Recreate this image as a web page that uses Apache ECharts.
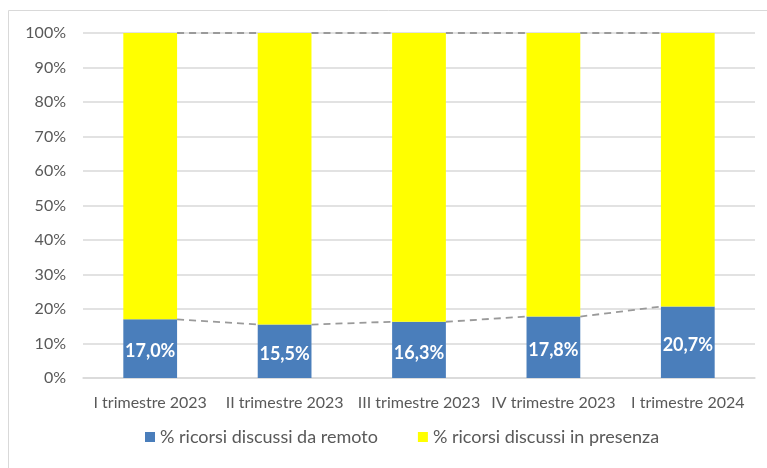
<!DOCTYPE html>
<html>
<head>
<meta charset="utf-8">
<script src="https://cdn.jsdelivr.net/npm/echarts@6/dist/echarts.min.js"></script>
<style>
  html, body { margin: 0; padding: 0; background: #fff; }
  #chart { width: 767px; height: 468px; }
</style>
</head>
<body>
<div id="chart"></div>
<script>
const categories = ['I trimestre 2023', 'II trimestre 2023', 'III trimestre 2023', 'IV trimestre 2023', 'I trimestre 2024'];
const remoto = [17.0, 15.5, 16.3, 17.8, 20.7];
const presenza = [83.0, 84.5, 83.7, 82.2, 79.3];
const yTicks = [0, 10, 20, 30, 40, 50, 60, 70, 80, 90, 100];

const BAR_RATIO = 0.4;
const font = 'Lato, Open Sans, sans-serif';

// tops of each stack level, used for the dashed series lines
const levels = [remoto, remoto.map((v, i) => v + presenza[i])];

const chart = echarts.init(document.getElementById('chart'));

chart.setOption({
  animation: false,
  textStyle: { fontFamily: font },
  graphic: [{
    type: 'rect',
    shape: { x: 8.5, y: 10.5, width: 800, height: 470 },
    style: { fill: 'none', stroke: '#d9d9d9', lineWidth: 1 },
    silent: true
  }],
  grid: { left: 83, right: 12, top: 33, bottom: 90 },
  legend: {
    bottom: 17,
    left: 140,
    itemWidth: 10,
    itemHeight: 10,
    itemGap: 40,
    icon: 'rect',
    textStyle: { color: '#595959', fontSize: 18, fontFamily: font },
    data: ['% ricorsi discussi da remoto', '% ricorsi discussi in presenza']
  },
  xAxis: {
    type: 'category',
    data: categories,
    axisLine: { show: true, lineStyle: { color: '#d9d9d9', width: 1.5 } },
    axisTick: { show: false },
    axisLabel: { color: '#595959', fontSize: 16, margin: 17, interval: 0 }
  },
  yAxis: {
    type: 'value',
    min: 0,
    max: 100,
    interval: 10,
    axisLine: { show: false },
    axisTick: { show: false },
    splitLine: { lineStyle: { color: '#d9d9d9', width: 1.5 } },
    axisLabel: {
      color: '#595959',
      fontSize: 16,
      margin: 17,
      formatter: v => yTicks.includes(v) ? v + '%' : ''
    }
  },
  series: [
    {
      name: '% ricorsi discussi da remoto',
      type: 'bar',
      stack: 'tot',
      barWidth: (BAR_RATIO * 100) + '%',
      data: remoto,
      itemStyle: { color: '#4a7ebb' },
      label: {
        show: true,
        position: 'inside',
        offset: [0, 3],
        color: '#fff',
        fontWeight: 'bold',
        fontSize: 18,
        fontFamily: font,
        formatter: p => p.value.toFixed(1).replace('.', ',') + '%'
      }
    },
    {
      name: '% ricorsi discussi in presenza',
      type: 'bar',
      stack: 'tot',
      data: presenza,
      itemStyle: { color: '#ffff00' }
    },
    {
      type: 'custom',
      silent: true,
      z: 5,
      data: levels.flatMap(lv => lv.slice(0, -1).map((v, i) => [i, v, i + 1, lv[i + 1]])),
      renderItem: (params, api) => {
        const a = api.coord([api.value(0), api.value(1)]);
        const b = api.coord([api.value(2), api.value(3)]);
        const half = api.size([1, 0])[0] * BAR_RATIO / 2;
        return {
          type: 'line',
          shape: { x1: a[0] + half, y1: a[1], x2: b[0] - half, y2: b[1] },
          style: { stroke: '#9a9a9a', lineWidth: 1.8, lineDash: [7, 5] }
        };
      }
    }
  ]
});
</script>
</body>
</html>
